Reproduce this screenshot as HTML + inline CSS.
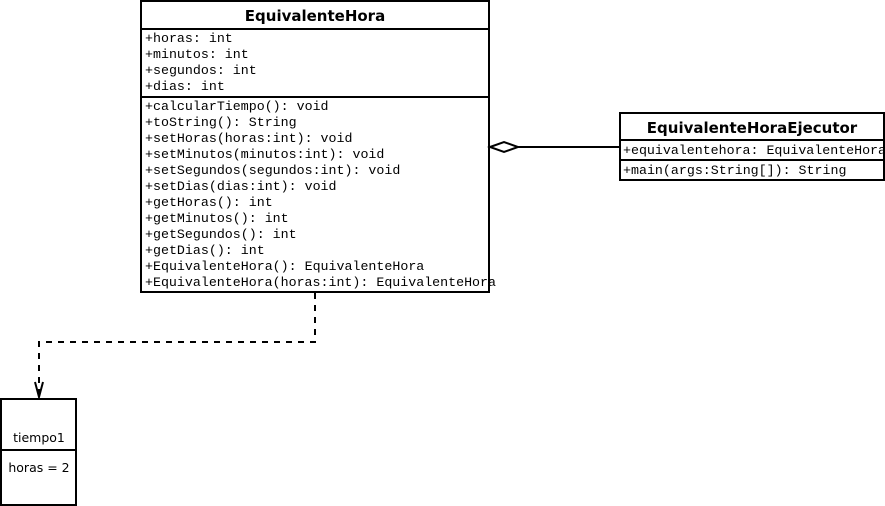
<!DOCTYPE html>
<html><head><meta charset="utf-8"><style>
html,body{margin:0;padding:0;background:#fff;width:885px;height:506px;overflow:hidden}
.m{font-family:"Liberation Mono","Courier New",monospace;font-size:13.3px}
.b{font-family:"DejaVu Sans","Liberation Sans",sans-serif;font-weight:bold;font-size:15px}
.s{font-family:"DejaVu Sans","Liberation Sans",sans-serif;font-size:12.5px}
</style></head><body>
<svg width="885" height="506" xmlns="http://www.w3.org/2000/svg">
<defs><clipPath id="c"><rect x="620" y="113" width="264" height="67"/></clipPath></defs>
<rect x="141" y="1" width="348" height="291" fill="#fff" stroke="#000" stroke-width="2"/>
<line x1="141" y1="29" x2="489" y2="29" stroke="#000" stroke-width="2"/>
<line x1="141" y1="97" x2="489" y2="97" stroke="#000" stroke-width="2"/>
<text x="315" y="21" text-anchor="middle" class="b">EquivalenteHora</text>
<g class="m">
<text x="145" y="42">+horas: int</text>
<text x="145" y="58">+minutos: int</text>
<text x="145" y="74">+segundos: int</text>
<text x="145" y="90">+dias: int</text>
<text x="145" y="110">+calcularTiempo(): void</text>
<text x="145" y="126">+toString(): String</text>
<text x="145" y="142">+setHoras(horas:int): void</text>
<text x="145" y="158">+setMinutos(minutos:int): void</text>
<text x="145" y="174">+setSegundos(segundos:int): void</text>
<text x="145" y="190">+setDias(dias:int): void</text>
<text x="145" y="206">+getHoras(): int</text>
<text x="145" y="222">+getMinutos(): int</text>
<text x="145" y="238">+getSegundos(): int</text>
<text x="145" y="254">+getDias(): int</text>
<text x="145" y="270">+EquivalenteHora(): EquivalenteHora</text>
<text x="145" y="286" textLength="351" lengthAdjust="spacing">+EquivalenteHora(horas:int): EquivalenteHora</text>
</g>
<rect x="620" y="113" width="264" height="67" fill="#fff" stroke="#000" stroke-width="2"/>
<line x1="620" y1="140" x2="884" y2="140" stroke="#000" stroke-width="2"/>
<line x1="620" y1="160" x2="884" y2="160" stroke="#000" stroke-width="2"/>
<text x="752" y="133" text-anchor="middle" class="b">EquivalenteHoraEjecutor</text>
<g class="m" clip-path="url(#c)">
<text x="623" y="154" textLength="263" lengthAdjust="spacing">+equivalentehora: EquivalenteHora</text>
<text x="623" y="174">+main(args:String[]): String</text>
</g>
<polygon points="490,147 504,142 518,147 504,152" fill="#fff" stroke="#000" stroke-width="2"/>
<line x1="518" y1="147" x2="620" y2="147" stroke="#000" stroke-width="2"/>
<polyline points="315,293 315,342 39,342 39,396" fill="none" stroke="#000" stroke-width="2" stroke-dasharray="6,6"/>
<polyline points="35,382 39,397 43,382" fill="none" stroke="#000" stroke-width="2"/>
<rect x="1" y="399" width="75" height="106" fill="#fff" stroke="#000" stroke-width="2"/>
<line x1="1" y1="450" x2="76" y2="450" stroke="#000" stroke-width="2"/>
<text x="39" y="442" text-anchor="middle" class="s">tiempo1</text>
<text x="39" y="472" text-anchor="middle" class="s">horas = 2</text>
</svg>
</body></html>
